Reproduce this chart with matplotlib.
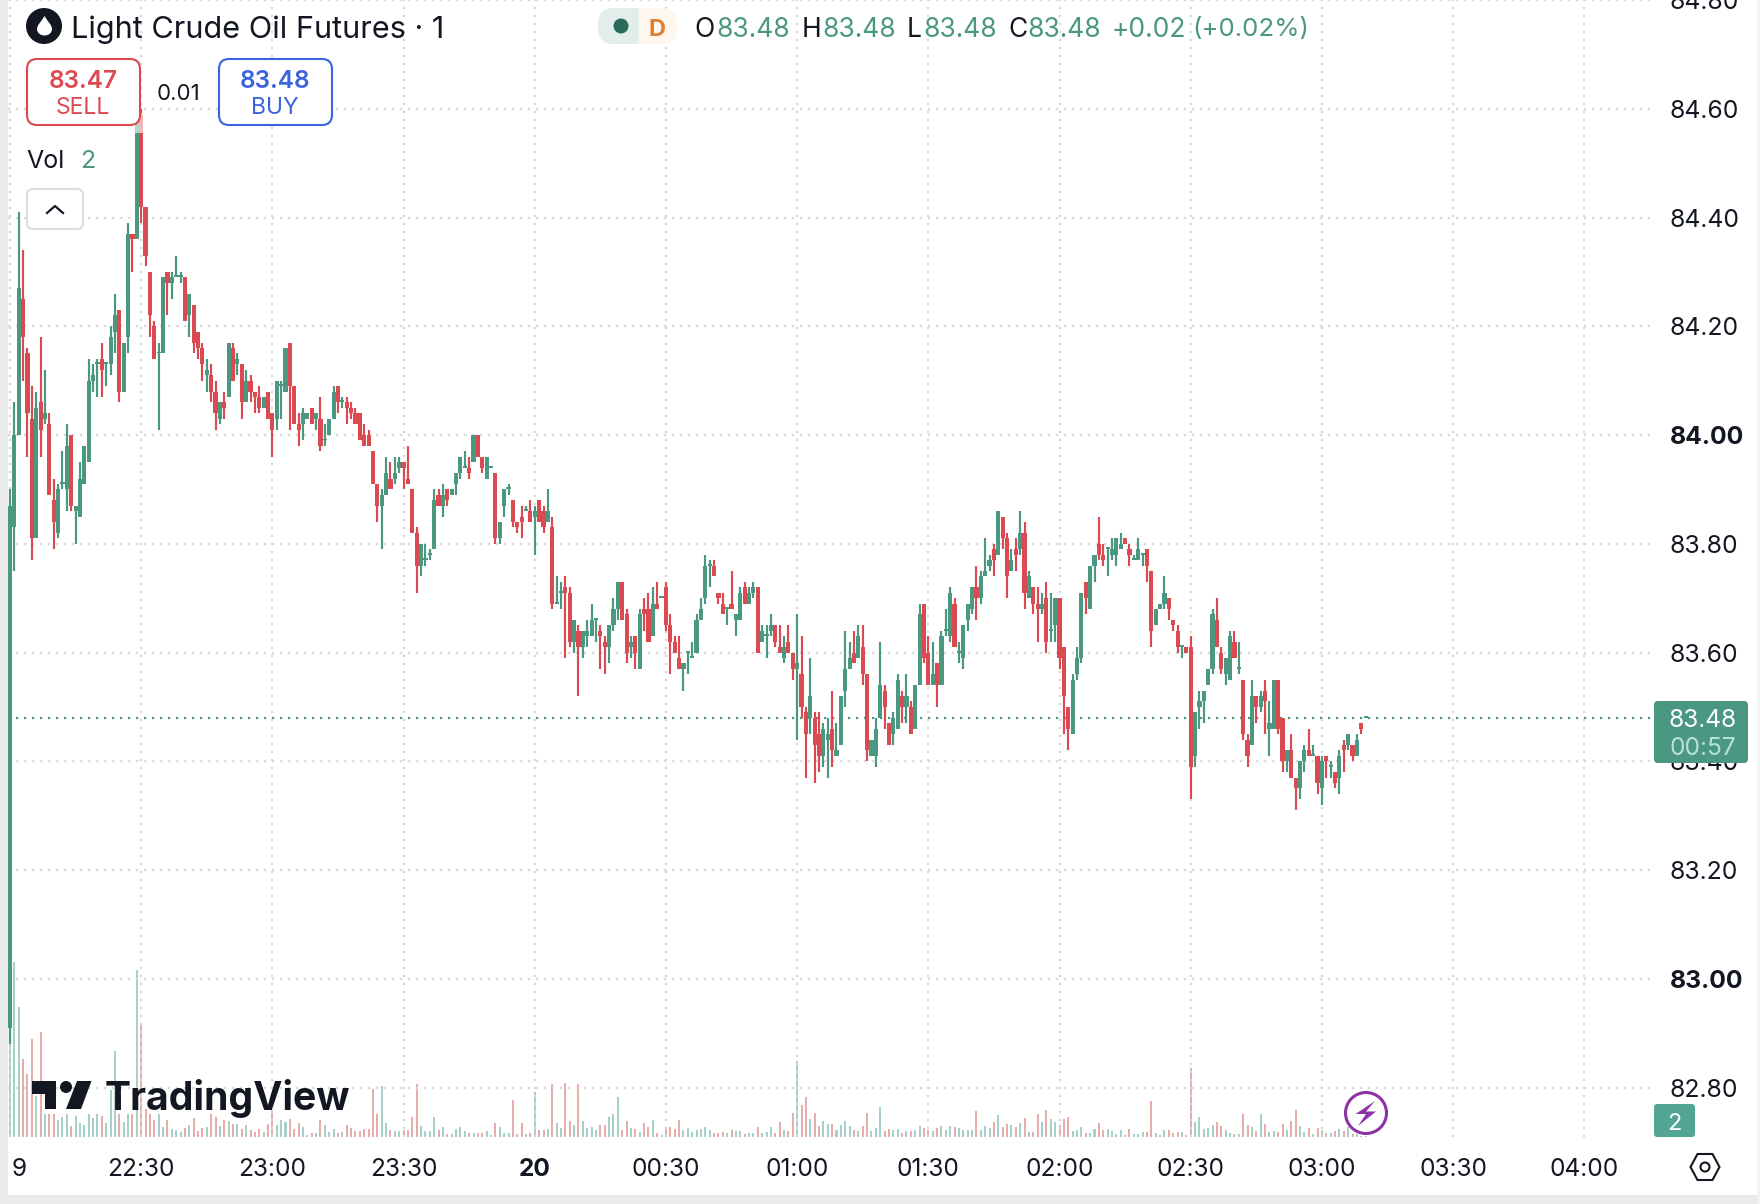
# Light Crude Oil Futures, 1 minute candles with volume (TradingView look)
import matplotlib
matplotlib.use("Agg")
import matplotlib.pyplot as plt
from matplotlib.patches import FancyBboxPatch, Rectangle, Circle, Polygon, PathPatch
from matplotlib.path import Path
from matplotlib.transforms import ScaledTranslation, Bbox
import numpy as np

plt.rcParams['font.family'] = ['Inter', 'DejaVu Sans']

opens = [
    82.91,83.83,84.00,84.25,84.15,84.03,83.81,84.06,84.03,84.02,
    83.88,83.82,83.91,83.90,84.00,83.86,83.85,83.91,83.95,84.10,
    84.13,84.14,84.13,84.13,84.19,84.23,84.08,84.18,84.37,84.36,
    84.59,84.42,84.30,84.20,84.15,84.15,84.30,84.28,84.29,84.29,
    84.29,84.22,84.24,84.19,84.16,84.11,84.11,84.08,84.03,84.06,
    84.07,84.16,84.13,84.13,84.06,84.10,84.08,84.07,84.05,84.08,
    84.04,84.03,84.09,84.08,84.17,84.09,84.02,84.02,84.03,84.05,
    84.03,84.03,83.99,84.00,84.03,84.09,84.06,84.06,84.05,84.04,
    84.04,84.00,84.00,83.97,83.91,83.87,83.89,83.92,83.92,83.94,
    83.95,83.92,83.90,83.82,83.76,83.77,83.78,83.79,83.89,83.87,
    83.90,83.89,83.91,83.93,83.94,83.94,83.95,84.00,83.96,83.92,
    83.94,83.93,83.81,83.87,83.90,83.88,83.84,83.85,83.86,83.86,
    83.85,83.88,83.86,83.84,83.83,83.69,83.71,83.72,83.71,83.62,
    83.64,83.61,83.63,83.63,83.66,83.64,83.62,83.61,83.65,83.68,
    83.73,83.67,83.61,83.63,83.57,83.68,83.68,83.63,83.69,83.70,
    83.72,83.65,83.62,83.59,83.57,83.60,83.59,83.60,83.66,83.70,
    83.76,83.76,83.71,83.69,83.68,83.69,83.66,83.66,83.72,83.69,
    83.71,83.72,83.62,83.63,83.64,83.65,83.61,83.59,83.62,83.60,
    83.57,83.56,83.49,83.48,83.48,83.45,83.41,83.44,83.46,83.41,
    83.43,83.53,83.57,83.60,83.59,83.61,83.56,83.41,83.41,83.48,
    83.53,83.47,83.45,83.46,83.52,83.50,83.50,83.46,83.54,83.69,
    83.60,83.54,83.58,83.54,83.64,83.63,83.69,83.60,83.59,83.66,
    83.68,83.72,83.70,83.74,83.76,83.79,83.78,83.85,83.81,83.75,
    83.79,83.79,83.82,83.70,83.72,83.69,83.68,83.70,83.64,83.65,
    83.70,83.61,83.50,83.45,83.56,83.59,83.73,83.68,83.76,83.80,
    83.78,83.79,83.78,83.78,83.79,83.81,83.79,83.77,83.77,83.78,
    83.79,83.75,83.65,83.68,83.69,83.70,83.66,83.64,83.61,83.61,
    83.61,83.41,83.50,83.51,83.54,83.57,83.66,83.60,83.56,83.55,
    83.62,83.57,83.55,83.44,83.43,83.52,83.50,83.53,83.46,83.46,
    83.55,83.48,83.40,83.42,83.37,83.35,83.40,83.42,83.41,83.41,
    83.35,83.41,83.39,83.38,83.37,83.43,83.43,83.43,83.41,83.47,83.48]

highs = [
    83.90,84.06,84.41,84.34,84.16,84.09,84.08,84.18,84.12,84.04,
    83.92,83.91,83.97,84.02,84.00,83.87,83.95,83.98,84.14,84.13,
    84.14,84.17,84.13,84.20,84.26,84.23,84.17,84.39,84.37,84.59,
    84.60,84.42,84.30,84.21,84.17,84.29,84.30,84.30,84.33,84.30,
    84.29,84.26,84.24,84.19,84.17,84.14,84.13,84.10,84.06,84.08,
    84.17,84.17,84.15,84.13,84.12,84.11,84.08,84.09,84.07,84.08,
    84.04,84.10,84.10,84.16,84.17,84.09,84.04,84.05,84.04,84.05,
    84.04,84.07,84.02,84.03,84.09,84.09,84.07,84.07,84.06,84.05,
    84.04,84.02,84.01,83.97,83.91,83.90,83.96,83.95,83.96,83.96,
    83.95,83.98,83.90,83.83,83.80,83.80,83.79,83.90,83.90,83.91,
    83.90,83.90,83.93,83.96,83.97,83.96,84.00,84.00,83.96,83.96,
    83.94,83.93,83.84,83.90,83.91,83.88,83.84,83.87,83.87,83.88,
    83.87,83.88,83.87,83.90,83.85,83.74,83.73,83.74,83.72,83.66,
    83.65,83.64,83.66,83.69,83.66,83.65,83.63,83.65,83.70,83.73,
    83.73,83.68,83.63,83.63,83.68,83.70,83.71,83.72,83.73,83.70,
    83.73,83.67,83.63,83.63,83.58,83.60,83.62,83.67,83.70,83.78,
    83.77,83.77,83.71,83.71,83.68,83.75,83.67,83.72,83.73,83.72,
    83.73,83.72,83.65,83.65,83.67,83.65,83.65,83.63,83.65,83.60,
    83.67,83.63,83.50,83.59,83.49,83.49,83.47,83.48,83.53,83.47,
    83.52,83.64,83.62,83.64,83.65,83.65,83.56,83.44,83.48,83.62,
    83.54,83.47,83.49,83.56,83.53,83.56,83.51,83.54,83.69,83.69,
    83.63,83.62,83.58,83.64,83.68,83.72,83.70,83.62,83.65,83.69,
    83.72,83.76,83.75,83.81,83.78,83.80,83.86,83.85,83.82,83.79,
    83.81,83.86,83.84,83.75,83.72,83.72,83.71,83.73,83.71,83.70,
    83.70,83.61,83.50,83.56,83.61,83.71,83.73,83.76,83.78,83.85,
    83.80,83.79,83.81,83.81,83.82,83.81,83.80,83.78,83.81,83.78,
    83.79,83.75,83.68,83.69,83.74,83.70,83.66,83.65,83.61,83.61,
    83.63,83.49,83.53,83.53,83.57,83.68,83.70,83.61,83.59,83.64,
    83.64,83.62,83.55,83.45,83.55,83.52,83.53,83.55,83.51,83.55,
    83.55,83.48,83.42,83.45,83.37,83.40,83.43,83.46,83.43,83.41,
    83.41,83.41,83.40,83.38,83.42,83.44,83.45,83.43,83.45,83.47,83.48]

lows = [
    82.88,83.75,84.00,84.10,83.96,83.77,83.81,83.96,84.02,83.89,
    83.79,83.81,83.90,83.86,83.86,83.80,83.85,83.91,83.95,84.08,
    84.07,84.07,84.09,84.11,84.15,84.06,84.08,84.15,84.30,84.36,
    84.39,84.31,84.18,84.14,84.01,84.15,84.22,84.25,84.29,84.28,
    84.21,84.18,84.15,84.14,84.10,84.08,84.06,84.01,84.02,84.03,
    84.07,84.10,84.11,84.03,84.06,84.06,84.04,84.04,84.05,84.03,
    83.96,84.01,84.03,84.08,84.01,84.02,83.98,83.99,84.03,84.02,
    84.01,83.97,83.98,84.00,84.03,84.04,84.05,84.02,84.03,84.02,
    83.99,83.98,83.98,83.91,83.84,83.79,83.89,83.90,83.91,83.93,
    83.90,83.91,83.82,83.71,83.74,83.76,83.77,83.79,83.87,83.85,
    83.87,83.89,83.89,83.92,83.94,83.92,83.95,83.96,83.93,83.92,
    83.94,83.80,83.80,83.85,83.89,83.83,83.82,83.81,83.86,83.84,
    83.78,83.84,83.82,83.84,83.68,83.69,83.68,83.59,83.61,83.60,
    83.52,83.59,83.61,83.63,83.62,83.57,83.56,83.58,83.64,83.66,
    83.66,83.58,83.59,83.57,83.57,83.64,83.62,83.63,83.68,83.70,
    83.64,83.56,83.60,83.57,83.53,83.56,83.59,83.60,83.66,83.69,
    83.72,83.74,83.69,83.67,83.65,83.68,83.63,83.66,83.69,83.69,
    83.70,83.60,83.62,83.59,83.63,83.61,83.60,83.58,83.60,83.55,
    83.44,83.48,83.37,83.45,83.36,83.38,83.39,83.37,83.39,83.41,
    83.43,83.50,83.57,83.58,83.59,83.54,83.40,83.41,83.39,83.48,
    83.46,83.43,83.43,83.46,83.47,83.47,83.45,83.46,83.54,83.58,
    83.54,83.54,83.50,83.54,83.63,83.62,83.61,83.58,83.57,83.64,
    83.67,83.66,83.69,83.74,83.75,83.74,83.78,83.79,83.70,83.75,
    83.75,83.78,83.68,83.70,83.67,83.62,83.67,83.60,83.62,83.62,
    83.57,83.45,83.42,83.45,83.55,83.58,83.67,83.68,83.73,83.77,
    83.76,83.74,83.77,83.76,83.79,83.80,83.76,83.77,83.77,83.76,
    83.73,83.61,83.65,83.68,83.68,83.66,83.64,83.60,83.59,83.60,
    83.33,83.39,83.46,83.47,83.54,83.56,83.61,83.56,83.54,83.55,
    83.59,83.56,83.44,83.39,83.43,83.47,83.49,83.45,83.41,83.46,
    83.45,83.38,83.38,83.37,83.31,83.33,83.38,83.41,83.41,83.34,
    83.32,83.37,83.37,83.35,83.34,83.38,83.42,83.40,83.41,83.45,83.48]

closes = [
    83.87,84.00,84.27,84.18,84.04,83.81,84.05,84.01,84.04,83.89,
    83.84,83.90,83.91,83.98,83.87,83.87,83.92,83.98,84.10,84.11,
    84.13,84.12,84.13,84.18,84.22,84.08,84.17,84.37,84.36,84.59,
    84.42,84.33,84.22,84.14,84.15,84.29,84.28,84.29,84.29,84.29,
    84.21,84.26,84.17,84.16,84.13,84.12,84.08,84.04,84.06,84.05,
    84.17,84.10,84.14,84.06,84.10,84.08,84.07,84.05,84.07,84.03,
    84.01,84.10,84.09,84.16,84.09,84.02,84.01,84.04,84.04,84.02,
    84.04,83.98,83.99,84.03,84.08,84.06,84.06,84.05,84.04,84.02,
    83.99,83.98,83.98,83.91,83.87,83.89,83.93,83.90,83.93,83.95,
    83.94,83.91,83.82,83.76,83.80,83.77,83.78,83.88,83.87,83.89,
    83.88,83.90,83.93,83.96,83.94,83.93,84.00,83.96,83.94,83.96,
    83.94,83.81,83.84,83.90,83.90,83.84,83.83,83.84,83.86,83.84,
    83.86,83.84,83.83,83.86,83.69,83.69,83.71,83.71,83.62,83.66,
    83.61,83.64,83.64,83.66,83.66,83.63,83.61,83.65,83.68,83.73,
    83.66,83.60,83.62,83.60,83.67,83.67,83.62,83.69,83.68,83.70,
    83.65,83.62,83.60,83.57,83.58,83.60,83.59,83.66,83.68,83.76,
    83.76,83.74,83.70,83.67,83.68,83.68,83.67,83.71,83.69,83.71,
    83.72,83.60,83.64,83.63,83.65,83.62,83.60,83.61,83.60,83.57,
    83.58,83.50,83.45,83.52,83.43,83.41,83.46,83.45,83.42,83.42,
    83.52,83.57,83.59,83.58,83.63,83.56,83.42,83.44,83.46,83.54,
    83.50,83.43,83.48,83.55,83.50,83.52,83.45,83.54,83.67,83.59,
    83.54,83.56,83.54,83.63,83.64,83.71,83.61,83.60,83.65,83.69,
    83.72,83.70,83.74,83.75,83.77,83.77,83.86,83.81,83.74,83.77,
    83.78,83.82,83.71,83.74,83.69,83.68,83.69,83.62,83.64,83.70,
    83.59,83.52,83.46,83.55,83.59,83.71,83.70,83.76,83.78,83.78,
    83.77,83.79,83.79,83.81,83.80,83.80,83.78,83.77,83.79,83.78,
    83.76,83.64,83.68,83.69,83.71,83.68,83.65,83.61,83.61,83.60,
    83.39,83.49,83.51,83.53,83.57,83.67,83.61,83.57,83.59,83.63,
    83.59,83.57,83.45,83.41,83.52,83.50,83.52,83.51,83.47,83.55,
    83.46,83.40,83.42,83.37,83.35,83.40,83.42,83.41,83.41,83.36,
    83.40,83.40,83.39,83.36,83.41,83.42,83.45,83.41,83.44,83.46,83.48]

volumes = [
    93,175,130,78,63,98,41,105,23,23,
    23,17,20,23,11,21,14,12,23,19,
    23,21,14,47,86,23,15,23,23,167,
    112,28,23,17,23,10,17,8,7,5,
    9,12,19,6,9,10,23,20,11,17,
    16,13,13,8,12,7,5,8,5,13,
    27,12,17,15,18,8,14,10,2,4,
    4,17,12,5,8,4,5,12,9,6,
    6,8,8,48,23,51,14,7,6,6,
    7,7,20,53,11,6,6,20,7,10,
    3,3,8,10,6,4,4,4,4,6,
    2,14,10,4,4,37,3,14,3,4,
    45,7,7,8,53,14,9,54,16,12,
    53,16,9,10,7,12,12,20,23,40,
    7,16,9,8,5,14,10,17,4,2,
    9,10,8,17,7,9,5,7,8,10,
    7,4,4,5,4,7,6,6,3,4,
    4,10,4,5,10,4,15,7,6,24,
    76,32,40,18,24,11,16,13,13,7,
    12,16,11,7,6,11,24,6,9,30,
    6,8,7,8,4,6,6,7,11,9,
    7,6,9,11,7,11,10,9,7,7,
    7,26,7,11,9,15,22,10,13,12,
    10,14,19,5,5,23,15,27,18,15,
    12,18,20,6,7,10,4,4,8,14,
    7,8,6,3,7,2,8,3,3,5,
    5,36,4,2,7,7,4,5,5,2,
    69,15,20,8,9,12,15,11,7,4,
    3,3,23,12,10,6,23,13,5,6,
    5,13,7,16,27,11,5,9,3,9,
    7,4,4,6,8,6,10,3,3,1,1]

price_ticks = [84.80, 84.60, 84.40, 84.20, 84.00, 83.80, 83.60, 83.40, 83.20, 83.00, 82.80]
time_ticks = [0, 30, 60, 90, 120, 150, 180, 210, 240, 270, 300, 330, 360]
time_labels = ['19', '22:30', '23:00', '23:30', '20', '00:30', '01:00', '01:30',
               '02:00', '02:30', '03:00', '03:30', '04:00']
last_price = 83.48

GREEN = '#4A9782'
RED = '#DA4A50'
GREEN_VOL = '#A5D1C9'
RED_VOL = '#E6ADAA'
GRID = '#D8D8D8'
TEXT = '#131722'
DOTS = (0, (1, 2.6))

W, H = 1760, 1204
fig = plt.figure(figsize=(W / 100, H / 100), dpi=100, facecolor='white')

# plot area is x 8..1650, y 0..1137 in pixels
ax = fig.add_axes([8 / W, (H - 1137) / H, 1642 / W, 1137 / H])
ax.set_xlim((8 - 10) / 4.373, (1650 - 10) / 4.373)
ax.set_ylim(82.709, 84.80)
ax.patch.set_visible(False)

# volume shares the area, one contract is about one pixel
axv = ax.twinx()
axv.set_ylim(0, 1137)
axv.set_yticks([])
ax.set_zorder(axv.get_zorder() + 1)

idx = np.arange(len(opens))
o = np.array(opens)
c = np.array(closes)
up = c >= o

axv.bar(idx, volumes, width=0.46, color=[GREEN_VOL if u else RED_VOL for u in up], linewidth=0)

ax.grid(True, color=GRID, linestyle=DOTS, linewidth=1.6, zorder=0)
ax.axhline(last_price, color=GREEN, linestyle=DOTS, linewidth=1.6, zorder=1)

colors = [GREEN if u else RED for u in up]
ax.vlines(idx, lows, highs, colors=colors, linewidth=1.55, zorder=3)
heights = np.maximum(np.abs(c - o), 0.0035)
ax.bar(idx, heights, bottom=np.minimum(o, c), width=0.95, color=colors, linewidth=0, zorder=3)

for s in ax.spines.values():
    s.set_visible(False)
for s in axv.spines.values():
    s.set_visible(False)

ax.yaxis.tick_right()
ax.set_yticks(price_ticks)
ax.set_yticklabels(['%.2f' % p for p in price_ticks], color=TEXT)
ax.tick_params(axis='y', length=0, pad=14, labelsize=17.8)
ax.set_xticks(time_ticks)
ax.set_xticklabels(time_labels, color=TEXT)
ax.tick_params(axis='x', length=0, pad=15.2, labelsize=17.6)
for lab in ax.get_yticklabels():
    if lab.get_text() in ('84.00', '83.00'):
        lab.set_fontweight('bold')
for lab in ax.get_xticklabels():
    if lab.get_text() == '20':
        lab.set_fontweight('bold')
    if lab.get_text() == '19':
        # only the 9 shows, the window edge cuts the 1
        lab.set_transform(lab.get_transform() + ScaledTranslation(0.05, 0, fig.dpi_scale_trans))
        lab.set_clip_box(Bbox([[10.5, 0], [60, H]]))
        lab.set_clip_on(True)

# everything else sits on a pixel overlay
ov = fig.add_axes([0, 0, 1, 1], zorder=10)
ov.set_xlim(0, W)
ov.set_ylim(H, 0)
ov.axis('off')


def box(x0, y0, x1, y1, radius, face, edge='none', lw=0):
    p = FancyBboxPatch((x0, y0), x1 - x0, y1 - y0, boxstyle='round,pad=0,rounding_size=%g' % radius,
                       facecolor=face, edgecolor=edge, linewidth=lw)
    ov.add_patch(p)


def label(x, y, s, size, color=TEXT, weight='normal', ha='center'):
    ov.text(x, y, s, fontsize=size, color=color, fontweight=weight, ha=ha, va='center_baseline')


# window edges
ov.add_patch(Rectangle((0, 0), 8, H, color='#EBEBEB', linewidth=0))
ov.add_patch(Rectangle((6, 1195), W, 9, color='#EBEBEB', linewidth=0))
ov.add_patch(Rectangle((1757, 0), 3, H, color='#F2F2F2', linewidth=0))

# title with the oil drop icon
ov.add_patch(Circle((44, 26), 18, color='#131722', linewidth=0))
drop = Path([(44.5, 16), (41, 22), (37, 25), (37, 29), (37, 33), (40.5, 35.5), (44.5, 35.5),
             (48.5, 35.5), (52, 33), (52, 29), (52, 25), (48, 22), (44.5, 16)],
            [Path.MOVETO] + [Path.CURVE4] * 12)
ov.add_patch(PathPatch(drop, facecolor='white', linewidth=0))
label(71, 27, 'Light Crude Oil Futures · 1', 22.1, ha='left')

# market status pill
box(598, 8, 677, 44, 16, '#FDF7EF')
ov.add_patch(FancyBboxPatch((598, 8), 60, 36, boxstyle='round,pad=0,rounding_size=16',
                            facecolor='#E2EEEB', linewidth=0))
ov.add_patch(Rectangle((625, 8), 14, 36, color='#E2EEEB', linewidth=0))
ov.add_patch(Rectangle((639, 8), 24, 36, color='#FDF7EF', linewidth=0))
ov.add_patch(Circle((621, 26), 7.5, color='#2A6B5A', linewidth=0))
label(657.5, 27, 'D', 17, color='#E07F2F', weight='bold')

# OHLC line
label(694, 27, 'O', 19, ha='left')
label(716.5, 27, '83.48', 19, color=GREEN, ha='left')
label(801.5, 27, 'H', 19, ha='left')
label(822.5, 27, '83.48', 19, color=GREEN, ha='left')
label(907, 27, 'L', 19, ha='left')
label(923, 27, '83.48', 19, color=GREEN, ha='left')
label(1008, 27, 'C', 19, ha='left')
label(1027.5, 27, '83.48', 19, color=GREEN, ha='left')
label(1112, 27, '+0.02', 19, color=GREEN, ha='left')
label(1192, 27, '(+0.02%)', 18.6, color=GREEN, ha='left')

# sell and buy buttons
ov.add_patch(Rectangle((130, 113), 16, 20, color='white', alpha=0.6, linewidth=0))
box(27, 59, 140, 125, 10, 'white', RED, 1.5)
label(83, 79, '83.47', 17.5, color=RED, weight='semibold')
label(83, 106, 'SELL', 16.5, color=RED)
label(178, 92, '0.01', 16)
box(219, 59, 332, 125, 10, 'white', '#3B63DC', 1.5)
label(275, 79, '83.48', 17.5, color='#3B63DC', weight='semibold')
label(275, 106, 'BUY', 16.5, color='#3B63DC')

# volume legend and collapse button
label(26, 159, 'Vol', 18, ha='left')
label(80, 159, '2', 18, color=GREEN, ha='left')
box(27, 189, 83, 229, 6, 'white', '#DDDDDD', 1.5)
ov.plot([47, 55, 63], [213, 206, 213], color=TEXT, linewidth=1.6)

# last price tag
box(1654, 701, 1748, 763, 4, GREEN)
label(1703, 718, '83.48', 17.6, color='white')
label(1703, 746, '00:57', 17.6, color='#B9E0D6')

# current volume tag
box(1654, 1104, 1695, 1137, 3, '#52A594')
label(1674, 1121, '2', 17, color='white')

# TradingView mark
ov.add_patch(Polygon([(32, 1081), (56, 1081), (56, 1109), (45, 1109), (45, 1094), (32, 1094)],
                     color='#131722', linewidth=0))
ov.add_patch(Circle((66, 1087), 6, color='#131722', linewidth=0))
ov.add_patch(Polygon([(77, 1081), (91.5, 1081), (81, 1109), (66, 1109)], color='#131722', linewidth=0))
ov.text(105, 1110, 'TradingView', fontsize=28.2, fontweight='bold', color='#131722', ha='left', va='baseline')

# lightning icon
ov.add_patch(Circle((1366, 1113), 20.5, facecolor='white', edgecolor='#8C32A5', linewidth=2.2))
bolt = [(9, -12), (-10.5, 1), (0, 1), (-8, 13), (10, -1.5), (0, -1.5)]
ov.add_patch(Polygon([(1366 + a, 1113 + b) for a, b in bolt], color='#8C32A5', linewidth=0))

# settings hexagon
hexagon = [(1690.5, 1167), (1697.5, 1154), (1712.5, 1154), (1719.5, 1167), (1712.5, 1180), (1697.5, 1180)]
ov.add_patch(Polygon(hexagon, facecolor='white', edgecolor=TEXT, linewidth=1.5))
ov.add_patch(Circle((1705, 1167), 4.5, facecolor='white', edgecolor=TEXT, linewidth=1.5))

fig.savefig('out.png', dpi=100)
